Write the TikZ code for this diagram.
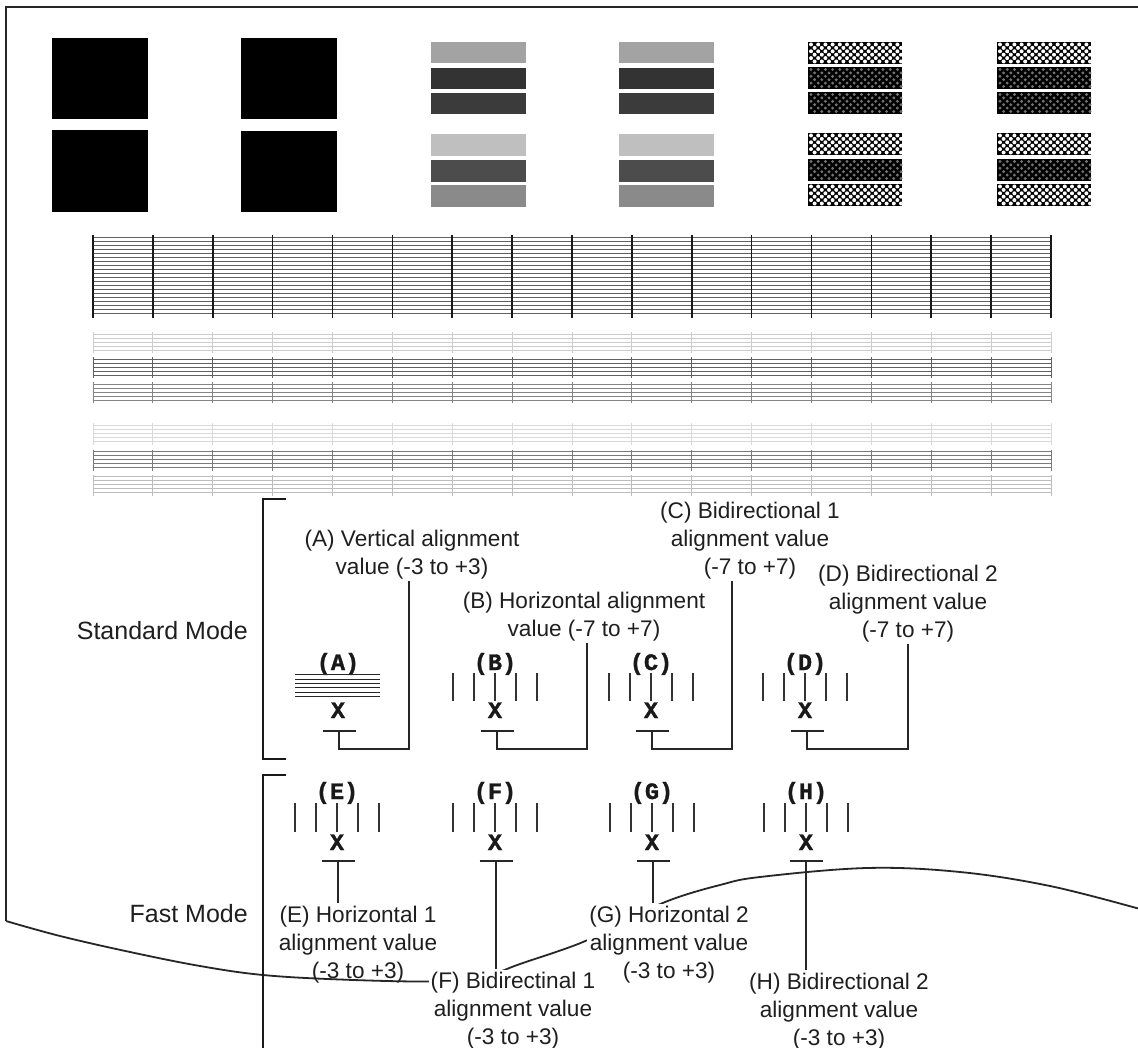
\documentclass[tikz,border=0pt]{standalone}
\usepackage{fontspec}
\setmainfont{Liberation Sans}
\newfontfamily\monofam{Liberation Mono}[BoldFeatures={FakeBold=1.3}]
\tikzset{
  lbl/.style={font=\fontsize{22.6}{28}\selectfont, align=center, text=black!88, inner sep=2pt, anchor=base},
  lblw/.style={lbl, fill=white},
  modelbl/.style={font=\fontsize{25}{30}\selectfont, text=black!88, anchor=base east, inner sep=0pt},
  monolbl/.style={font=\fontsize{23.5}{23.5}\selectfont\monofam\bfseries, text=black!90, inner sep=0pt, anchor=base},
  leader/.style={line width=1.3pt, draw=black!85},
  bracketln/.style={line width=2.2pt, draw=black!90},
  tickln/.style={line width=1.3pt, draw=black!80},
  frameln/.style={line width=2.2pt, draw=black!85},
}
\newcommand\markset[7]{%
  \node[monolbl] (#1l) at (#3,#4) {(#2)};
  \node[monolbl] (#1x) at (#3,#7) {X};
  \foreach \dx in {-42,-21,0,21,42} {\draw[tickln] ({#3+\dx},#5) -- ({#3+\dx},#6);}
}
\newcommand\tbar[3]{%
  \coordinate (#1) at (#2,#3);
  \draw[leader] ([xshift=-16.5pt]#1) -- ([xshift=16.5pt]#1);
}
\begin{document}
\begin{tikzpicture}[x=1pt,y=-1pt]
\useasboundingbox (0,0) rectangle (1138,1048);
\fill[white] (0,0) rectangle (1138,1048);

% black squares
\fill[black] (52,38) rectangle (148,119);
\fill[black] (52,130) rectangle (148,212);
\fill[black] (241,38) rectangle (337,119);
\fill[black] (241,131) rectangle (337,212);

% grey bars
\foreach \bx in {431,619} {
  \fill[black!36] (\bx,42) rectangle ++(95,21);
  \fill[black!80] (\bx,68) rectangle ++(95,21);
  \fill[black!77] (\bx,93) rectangle ++(95,21);
  \fill[black!25] (\bx,134) rectangle ++(95,22);
  \fill[black!70] (\bx,160) rectangle ++(95,22);
  \fill[black!46] (\bx,185) rectangle ++(95,22);
}

% checkered bars
\foreach \bx in {808,997} {
  \foreach \by/\dn in {42/0,67/1,92/1,133/0,159/1,184/0} {
    \fill[black] (\bx,\by) rectangle ++(94,22);
    \foreach \j in {0,...,5} {
      \foreach \i in {0,...,12} {
        \pgfmathsetmacro\xx{\bx+3+mod(\j,2)*3.6+\i*7.2}
        \pgfmathsetmacro\yy{\by+2.5+\j*3.4}
        \ifnum\dn=0
          \fill[white] (\xx,\yy) circle (2pt);
        \else
          \fill[black!55] (\xx,\yy) circle (1.6pt);
        \fi
      }
    }
  }
}

% main grid
\foreach \j in {0,...,19} \draw[line width=0.75pt, black!62] (93,{237+4*\j}) -- (1051,{237+4*\j});
\foreach \k in {0,...,16} \draw[line width=1.6pt, black!90] ({93+59.875*\k},235) -- ({93+59.875*\k},318);

% thin line groups
\foreach \gy/\gc in {334/20, 359/62, 384/48, 425/15, 451/52, 476/26} {
  \foreach \j in {0,...,4} \draw[line width=0.8pt, black!\gc] (93,{\gy+4.2*\j}) -- (1051,{\gy+4.2*\j});
  \foreach \k in {0,...,16} \draw[line width=1pt, black!\gc] ({93+59.875*\k},{\gy-1.5}) -- ({93+59.875*\k},{\gy+19.5});
}

% frame and curled edge
\draw[frameln] (6,921) -- (6,7) -- (1140,7);
\draw[frameln, line width=1.8pt] plot[smooth, tension=0.6] coordinates {(6,921) (60,936) (130,952) (200,966) (263,975) (340,979.5) (430,981.5) (480,978) (520,964) (583,942) (630,918) (673,899) (720,885) (760,877) (867,868) (960,872) (1050,886) (1140,909)};

% brackets
\draw[bracketln] (286,499) -- (263,499) -- (263,759) -- (286,759);
\draw[bracketln] (286,775) -- (263,775) -- (263,1052);

% mode labels
\node[modelbl] (std) at (248,639) {Standard Mode};
\node[modelbl] (fast) at (248,922) {Fast Mode};

% ---- standard mode patterns
\node[monolbl] (Al) at (338,670) {(A)};
\node[monolbl] (Ax) at (338,718) {X};
\foreach \yy in {674.5,679,683.5,687.5,692,696} \draw[line width=1pt, black!85] (295,\yy) -- (380,\yy);
\markset{B}{B}{495}{670}{673}{701}{718}
\markset{C}{C}{651}{670}{673}{701}{718}
\markset{D}{D}{805}{670}{673}{701}{718}

\tbar{At}{339}{731}
\tbar{Bt}{497}{731}
\tbar{Ct}{652}{731}
\tbar{Dt}{807}{731}

\node[lbl] (lA) at (412,574) {(A) Vertical alignment\\value (-3 to +3)};
\node[lbl] (lB) at (584,636) {(B) Horizontal alignment\\value (-7 to +7)};
\node[lbl] (lC) at (750,574) {(C) Bidirectional 1\\alignment value\\(-7 to +7)};
\node[lbl] (lD) at (908,637) {(D) Bidirectional 2\\alignment value\\(-7 to +7)};

\coordinate (Ac) at (409,749);
\coordinate (Bc) at (587,749);
\coordinate (Cc) at (732,749);
\coordinate (Dc) at (908,749);
\draw[leader] (At) |- (Ac) -- (Ac |- lA.south);
\draw[leader] (Bt) |- (Bc) -- (Bc |- lB.south);
\draw[leader] (Ct) |- (Cc) -- (Cc |- lC.south);
\draw[leader] (Dt) |- (Dc) -- (Dc |- lD.south);

% ---- fast mode patterns
\markset{E}{E}{337}{799}{803}{832}{850}
\markset{F}{F}{495}{799}{803}{832}{850}
\markset{G}{G}{652}{799}{803}{832}{850}
\markset{H}{H}{806}{799}{803}{832}{850}

\tbar{Et}{338}{861}
\tbar{Ft}{496}{861}
\tbar{Gt}{653}{861}
\tbar{Ht}{806}{861}

\node[lbl] (lE) at (358,978) {(E) Horizontal 1\\alignment value\\(-3 to +3)};
\node[lblw] (lG) at (669,978) {(G) Horizontal 2\\alignment value\\(-3 to +3)};
\node[lblw] (lF) at (513,1044) {(F) Bidirectinal 1\\alignment value\\(-3 to +3)};
\node[lbl] (lH) at (839,1045) {(H) Bidirectional 2\\alignment value\\(-3 to +3)};

\draw[leader] (Et) -- (Et |- lE.north);
\draw[leader] (Ft) -- (Ft |- lF.north);
\draw[leader] (Gt) -- (Gt |- lG.north);
\draw[leader] (Ht) -- (Ht |- lH.north);
\end{tikzpicture}
\end{document}
